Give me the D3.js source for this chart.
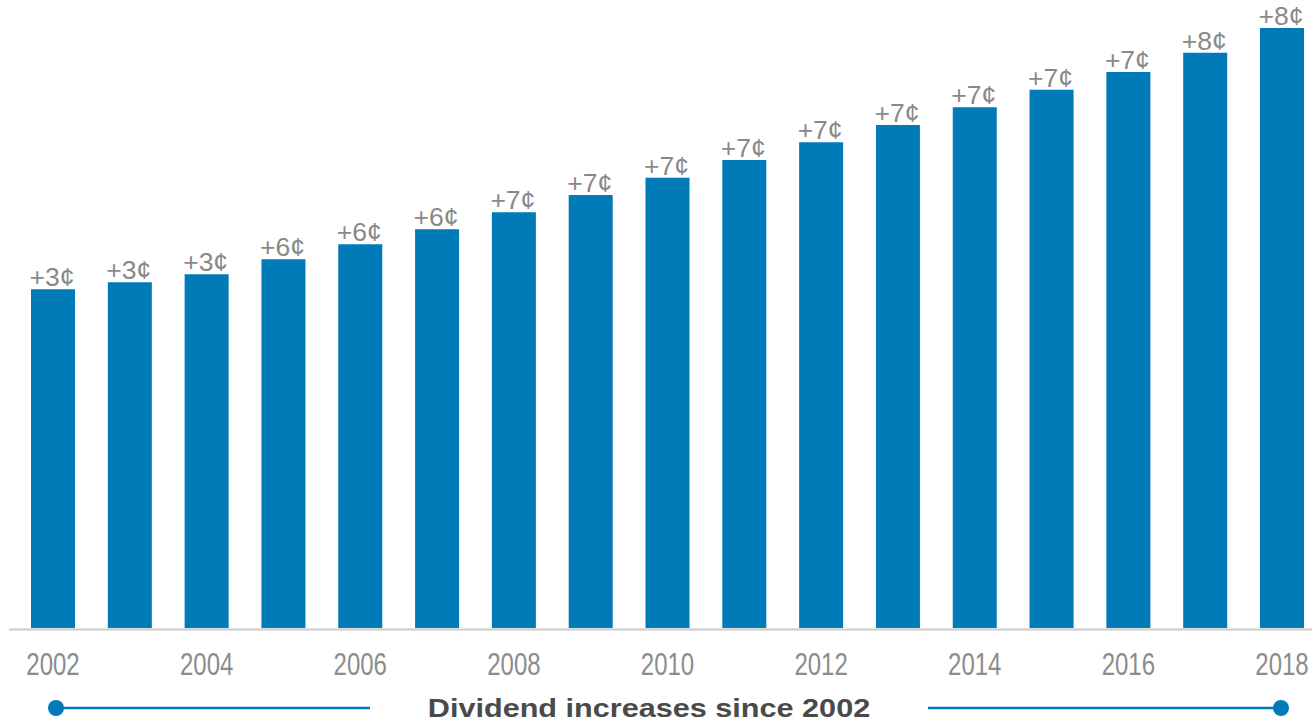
<!DOCTYPE html>
<html>
<head>
<meta charset="utf-8">
<script src="https://cdn.jsdelivr.net/npm/d3@7/dist/d3.min.js"></script>
<style>
  html, body { margin: 0; padding: 0; background: #fff; }
  svg { display: block; font-family: "Liberation Sans", Arial, sans-serif; }
</style>
</head>
<body>
<svg id="chart" width="1312" height="722"></svg>
<script>
// ---- data ----
const years = ["2002","2003","2004","2005","2006","2007","2008","2009","2010","2011","2012","2013","2014","2015","2016","2017","2018"];
const dividends = [135.5, 138.3, 141.5, 147.5, 153.5, 159.5, 166.3, 173.2, 180.1, 187.2, 194.3, 201.2, 208.3, 215.3, 222.4, 230.1, 240.0];
const increases = ["+3¢","+3¢","+3¢","+6¢","+6¢","+6¢","+7¢","+7¢","+7¢","+7¢","+7¢","+7¢","+7¢","+7¢","+7¢","+8¢","+8¢"];
const tickLabels = ["2002","2004","2006","2008","2010","2012","2014","2016","2018"];
const title = "Dividend increases since 2002";

// ---- layout ----
const W = 1312, H = 722;
const baseY = 628;
const svg = d3.select("#chart");

const x = d3.scaleBand()
  .domain(years)
  .range([14.6, 1320.4])
  .paddingInner(0.427)
  .paddingOuter(0.2135);

const y = d3.scaleLinear()
  .domain([0, 250])
  .range([baseY, baseY - 625]);

const barColor = "#007bb8";
const data = years.map((yr, i) => ({ yr, v: dividends[i], lab: increases[i] }));

// bars
svg.append("g").selectAll("rect")
  .data(data)
  .join("rect")
  .attr("x", d => x(d.yr))
  .attr("y", d => y(d.v))
  .attr("width", x.bandwidth())
  .attr("height", d => y(0) - y(d.v))
  .attr("fill", barColor);

// axis baseline
svg.append("line")
  .attr("x1", 9).attr("x2", W)
  .attr("y1", baseY + 1.5).attr("y2", baseY + 1.5)
  .attr("stroke", "#c9c9c9")
  .attr("stroke-width", 2);

// value labels
svg.append("g").selectAll("text")
  .data(data)
  .join("text")
  .attr("transform", d => `translate(${x(d.yr) + x.bandwidth() / 2 - 1},${y(d.v) - 3}) scale(1.02,1)`)
  .attr("text-anchor", "middle")
  .attr("font-size", 26)
  .attr("fill", "#898989")
  .text(d => d.lab);

// year tick labels
svg.append("g").selectAll("text")
  .data(tickLabels)
  .join("text")
  .attr("transform", d => `translate(${x(d) + x.bandwidth() / 2},675) scale(1,1.28)`)
  .attr("text-anchor", "middle")
  .attr("font-size", 24)
  .attr("fill", "#8c8c8c")
  .text(d => d);

// bottom decoration lines with dots
const lineY = 708;
const leftX = x(years[0]) + x.bandwidth() / 2 + 3;
const rightX = x(years[years.length - 1]) + x.bandwidth() / 2 - 1;
const deco = svg.append("g");
deco.append("line")
  .attr("x1", leftX).attr("x2", 370)
  .attr("y1", lineY).attr("y2", lineY)
  .attr("stroke", barColor).attr("stroke-width", 2.5);
deco.append("line")
  .attr("x1", 928).attr("x2", rightX)
  .attr("y1", lineY).attr("y2", lineY)
  .attr("stroke", barColor).attr("stroke-width", 2.5);
deco.selectAll("circle")
  .data([leftX, rightX])
  .join("circle")
  .attr("cx", d => d).attr("cy", lineY).attr("r", 8)
  .attr("fill", barColor);

// title
svg.append("text")
  .attr("transform", "translate(649,717) scale(1.25,1.05)")
  .attr("text-anchor", "middle")
  .attr("font-size", 24.5)
  .attr("font-weight", "bold")
  .attr("fill", "#4a4a4a")
  .text(title);
</script>
</body>
</html>
